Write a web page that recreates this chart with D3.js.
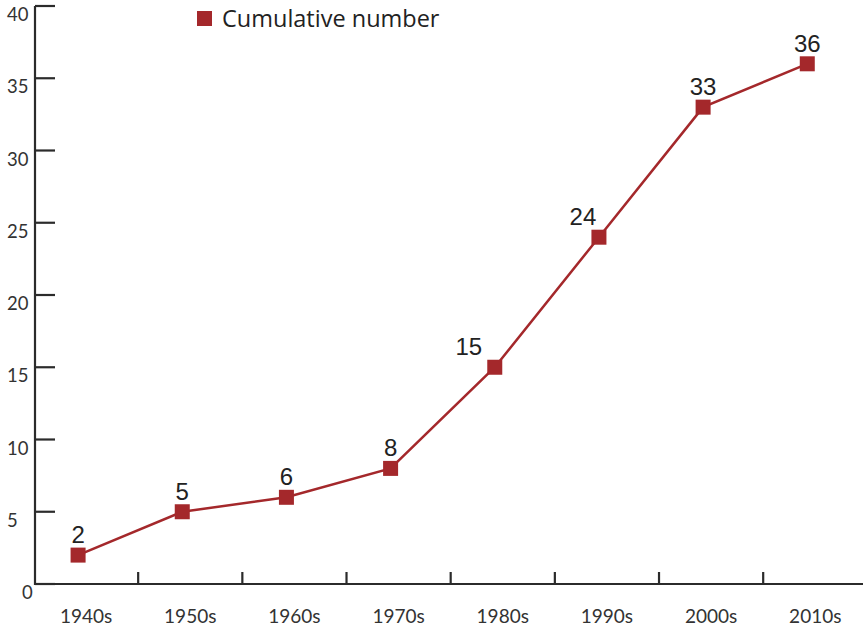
<!DOCTYPE html>
<html><head><meta charset="utf-8">
<script src="https://cdn.jsdelivr.net/npm/d3@7"></script>
<style>body{margin:0;background:#fff}</style>
</head><body>
<svg id="c" width="863" height="629"></svg>
<script>
const categories = ["1940s","1950s","1960s","1970s","1980s","1990s","2000s","2010s"];
const values = [2,5,6,8,15,24,33,36];
const yTicks = [0,5,10,15,20,25,30,35,40];
const seriesName = "Cumulative number";

const color = "#a4282b";
const axisColor = "#2b2b2b";
const svg = d3.select("#c");
const x = d3.scaleBand().domain(categories).range([34, 34 + 104.17*8]);
const y = d3.scaleLinear().domain([0,40]).range([584, 6]);
const px = d => x(d) + x.bandwidth()/2 - 8;

// y axis
svg.append("line").attr("x1",35).attr("x2",35).attr("y1",y(40)).attr("y2",y(0)+1)
  .attr("stroke",axisColor).attr("stroke-width",2.2);
svg.selectAll(".yt").data(yTicks).enter().append("line")
  .attr("x1",35).attr("x2",55).attr("y1",d=>y(d)).attr("y2",d=>y(d))
  .attr("stroke",axisColor).attr("stroke-width",2.2);
svg.selectAll(".yl").data(yTicks).enter().append("text")
  .attr("x",d=> d===0 ? 22 : 7).attr("y",d=>y(d)+15)
  .attr("font-family","Lato, sans-serif").attr("font-size",18.5).attr("fill","#333")
  .text(d=>d);

// x axis
svg.append("line").attr("x1",34).attr("x2",863).attr("y1",y(0)).attr("y2",y(0))
  .attr("stroke",axisColor).attr("stroke-width",2.2);
svg.selectAll(".xt").data(categories.slice(1)).enter().append("line")
  .attr("x1",d=>x(d)).attr("x2",d=>x(d)).attr("y1",y(0)-12).attr("y2",y(0))
  .attr("stroke",axisColor).attr("stroke-width",2.2);
svg.selectAll(".xl").data(categories).enter().append("text")
  .attr("x",d=>x(d)+x.bandwidth()/2).attr("y",623)
  .attr("text-anchor","middle")
  .attr("font-family","Lato, sans-serif").attr("font-size",19).attr("fill","#333")
  .text(d=>d);

// line
const data = categories.map((c,i)=>({c, v: values[i]}));
svg.append("path").datum(data)
  .attr("d", d3.line().x(d=>px(d.c)).y(d=>y(d.v)))
  .attr("fill","none").attr("stroke",color).attr("stroke-width",2.5);
svg.selectAll(".pt").data(data).enter().append("rect")
  .attr("x",d=>px(d.c)-7.5).attr("y",d=>y(d.v)-7.5)
  .attr("width",15).attr("height",15).attr("fill",color);

// value labels
const labelDx = {"1980s": -26, "1990s": -16};
svg.selectAll(".vl").data(data).enter().append("text")
  .attr("x",d=>px(d.c) + (labelDx[d.c]||0)).attr("y",d=>y(d.v)-12)
  .attr("text-anchor","middle")
  .attr("font-family","'Liberation Sans', Arial, sans-serif").attr("font-size",24).attr("fill","#222")
  .text(d=>d.v);

// legend
svg.append("rect").attr("x",197).attr("y",11).attr("width",15).attr("height",15).attr("fill",color);
svg.append("text").attr("x",222).attr("y",27)
  .attr("font-family","'Open Sans', sans-serif").attr("font-size",23.5).attr("fill","#222")
  .text(seriesName);
</script>
</body></html>
